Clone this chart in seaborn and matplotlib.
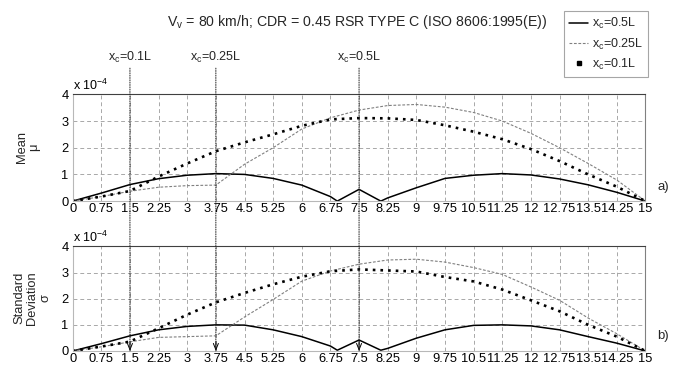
import numpy as np
import pandas as pd
import matplotlib
matplotlib.use("Agg")
import matplotlib.pyplot as plt
import seaborn as sns
from matplotlib.patches import ConnectionPatch
from matplotlib.lines import Line2D
from matplotlib.ticker import ScalarFormatter, FixedLocator
import matplotlib.transforms as mtrans

# ---------------- data (values in units of 1e-4) ----------------
SCALE = 1e-4
x_grid = [0, 0.75, 1.5, 2.25, 3, 3.75, 4.5, 5.25, 6, 6.75, 7.5, 8.25, 9,
          9.75, 10.5, 11.25, 12, 12.75, 13.5, 14.25, 15]
xtick_labels = ["0", "0.75", "1.5", "2.25", "3", "3.75", "4.5", "5.25", "6",
                "6.75", "7.5", "8.25", "9", "9.75", "10.5", "11.25", "12",
                "12.75", "13.5", "14.25", "15"]
yticks = [0, 1, 2, 3, 4]

x_solid = [0, 0.75, 1.5, 2.25, 3, 3.75, 4.5, 5.25, 6, 6.75, 6.93, 7.5, 8.07,
           8.25, 9, 9.75, 10.5, 11.25, 12, 12.75, 13.5, 14.25, 15]

# Mean, mu
mean_05 = [0, 0.3, 0.62, 0.84, 0.97, 1.03, 1.0, 0.85, 0.6, 0.17, 0.0, 0.44,
           0.0, 0.12, 0.5, 0.85, 0.97, 1.03, 0.98, 0.83, 0.61, 0.33, 0]
mean_025 = [0, 0.17, 0.37, 0.52, 0.58, 0.6, 1.38, 2.0, 2.7, 3.12, 3.41, 3.58,
            3.62, 3.52, 3.32, 3.0, 2.54, 2.0, 1.41, 0.79, 0]
mean_01 = [0, 0.17, 0.38, 0.92, 1.41, 1.87, 2.2, 2.5, 2.82, 3.06, 3.11, 3.1,
           3.04, 2.84, 2.6, 2.32, 1.95, 1.5, 1.0, 0.54, 0]

# Standard deviation, sigma
std_05 = [0, 0.28, 0.58, 0.81, 0.94, 1.0, 0.99, 0.81, 0.55, 0.19, 0.03, 0.42,
          0.03, 0.1, 0.49, 0.81, 0.98, 1.0, 0.96, 0.81, 0.55, 0.3, 0]
std_025 = [0, 0.16, 0.35, 0.52, 0.55, 0.58, 1.3, 1.97, 2.67, 3.06, 3.32, 3.48,
           3.51, 3.4, 3.19, 2.93, 2.45, 1.94, 1.26, 0.66, 0]
std_01 = [0, 0.17, 0.36, 0.87, 1.39, 1.86, 2.22, 2.55, 2.84, 3.05, 3.12, 3.08,
          3.04, 2.83, 2.66, 2.35, 1.94, 1.52, 1.0, 0.55, 0]

xc_positions = [1.5, 3.75, 7.5]
xc_labels = [r"x$_{\rm c}$=0.1L", r"x$_{\rm c}$=0.25L", r"x$_{\rm c}$=0.5L"]
legend_labels = [r"x$_{\rm c}$=0.5L", r"x$_{\rm c}$=0.25L", r"x$_{\rm c}$=0.1L"]
title = r"V$_{\rm v}$ = 80 km/h; CDR = 0.45 RSR TYPE C (ISO 8606:1995(E))"

# ---------------- style ----------------
sns.set_style("white")
plt.rcParams["font.family"] = ["Liberation Sans", "DejaVu Sans"]
plt.rcParams["mathtext.fontset"] = "custom"
plt.rcParams["mathtext.rm"] = "Liberation Sans"
plt.rcParams["mathtext.it"] = "Liberation Sans:italic"
plt.rcParams["mathtext.bf"] = "Liberation Sans:bold"

fig = plt.figure(figsize=(6.83, 3.67), dpi=100)
ax1 = fig.add_axes([0.1064, 0.452, 0.8386, 0.291])
ax2 = fig.add_axes([0.1064, 0.0436, 0.8386, 0.285])

GRAY = "#808080"


class MatlabFormatter(ScalarFormatter):
    def get_offset(self):
        return r"x 10$^{-4}$"


def draw(ax, s05, s025, s01):
    sns.lineplot(x=x_solid, y=np.array(s05) * SCALE, ax=ax, color="black",
                 lw=1.1, estimator=None, sort=False)
    sns.lineplot(x=x_grid, y=np.array(s025) * SCALE, ax=ax, color=GRAY,
                 lw=0.8, linestyle=(0, (2.5, 1.5)), estimator=None, sort=False)
    sns.lineplot(x=x_grid, y=np.array(s01) * SCALE, ax=ax, color="black",
                 lw=1.9, linestyle=(0, (1, 1.9)), estimator=None, sort=False,
                 dash_capstyle="butt")
    ax.set_xlim(0, 15)
    ax.set_ylim(0, 4 * SCALE)
    ax.xaxis.set_major_locator(FixedLocator(x_grid))
    ax.set_xticklabels(xtick_labels)
    ax.yaxis.set_major_locator(FixedLocator([v * SCALE for v in yticks]))
    fmt = MatlabFormatter(useMathText=False)
    fmt.set_powerlimits((-3, 3))
    ax.yaxis.set_major_formatter(fmt)
    ax.yaxis.get_offset_text().set_fontsize(9)
    ax.tick_params(axis="both", labelsize=9.3, direction="in", length=2,
                   pad=1.5, colors="black")
    ax.tick_params(axis="y", pad=3)
    ax.grid(True, color="#a8a8a8", linestyle=(0, (4, 3)), lw=0.7)
    ax.set_axisbelow(True)
    for side, c in [("left", "#b8b8b8"), ("bottom", "#b8b8b8"),
                    ("top", "#404040"), ("right", "#808080")]:
        ax.spines[side].set_color(c)
        ax.spines[side].set_linewidth(0.8)
    ax.set_xlabel("")
    ax.set_ylabel("")


draw(ax1, mean_05, mean_025, mean_01)
draw(ax2, std_05, std_025, std_01)

# vertical load-position markers spanning both panels
tr = mtrans.blended_transform_factory(ax1.transData, fig.transFigure)
for xc, lab in zip(xc_positions, xc_labels):
    con = ConnectionPatch(xyA=(xc, 4.98 * SCALE), coordsA="data", axesA=ax1,
                          xyB=(xc, 0), coordsB="data", axesB=ax2,
                          color="#202020", lw=0.7, linestyle=(0, (1, 1.4)),
                          zorder=5)
    con.set_annotation_clip(False)
    fig.add_artist(con)
    ax2.annotate("", xy=(xc, 0), xytext=(xc, 0.35 * SCALE),
                 annotation_clip=False,
                 arrowprops=dict(arrowstyle="->,head_length=0.45,head_width=0.18",
                                 lw=0.7, color="black", shrinkA=0, shrinkB=0))
    fig.text(xc, 0.835, lab, transform=tr, ha="center", va="baseline",
             fontsize=9)

fig.text(0.523, 0.93, title, ha="center", va="baseline", fontsize=10.2)

fig.text(0.041, 0.60, "Mean\n\u03bc", rotation=90, ha="center", va="center",
         multialignment="center", fontsize=9.3, linespacing=1.1)
fig.text(0.047, 0.188, "Standard\nDeviation\n\u03c3", rotation=90,
         ha="center", va="center", multialignment="center", fontsize=9.3,
         linespacing=1.1)

fig.text(0.971, 0.49, "a)", ha="center", va="center", fontsize=9.5)
fig.text(0.971, 0.084, "b)", ha="center", va="center", fontsize=9.5)

handles = [
    Line2D([], [], color="black", lw=1.1),
    Line2D([], [], color=GRAY, lw=0.8, linestyle=(0, (2.5, 1.5))),
    Line2D([], [], color="black", marker="s", markersize=2.2, linestyle="none"),
]
leg = fig.legend(handles, legend_labels, loc="upper left",
                 bbox_to_anchor=(0.826, 0.969), fontsize=9, frameon=True,
                 fancybox=False, edgecolor="#909090", handlelength=1.5,
                 handletextpad=0.3, borderpad=0.4, labelspacing=0.4,
                 borderaxespad=0)
leg.get_frame().set_linewidth(0.8)

fig.savefig("out.png", dpi=100)
